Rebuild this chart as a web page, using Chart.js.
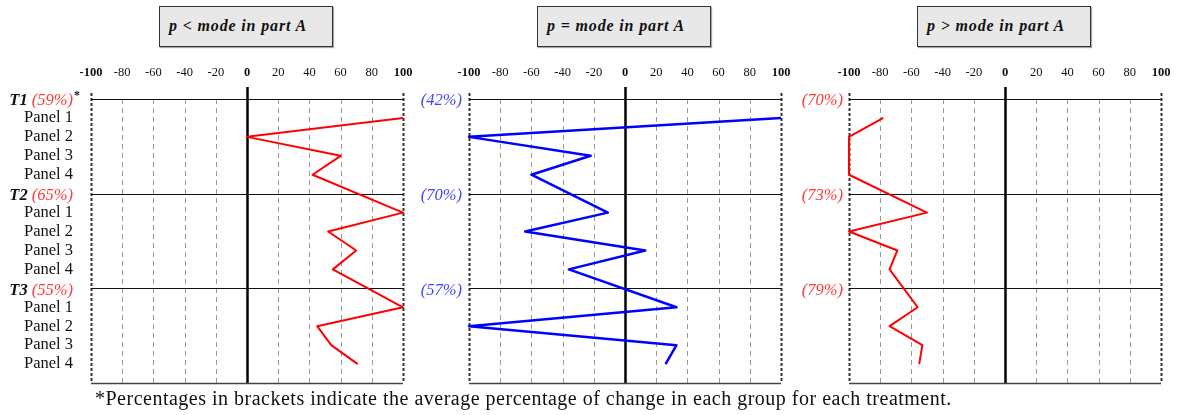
<!DOCTYPE html>
<html lang="en">
<head>
<meta charset="UTF-8">
<title>Change by panel and treatment</title>
<script src="https://cdn.jsdelivr.net/npm/chart.js"></script>
<style>
  body { margin: 0; background: #fff; width: 1181px; height: 415px; position: relative; overflow: hidden;
         font-family: 'Liberation Serif', 'Times New Roman', serif; color: #111; }
  .box { position: absolute; top: 6px; width: 174px; height: 41px; box-sizing: border-box;
         background: #e8e8e8; border: 1px solid #333; box-shadow: 1px 1px 1px #aaa;
         font-weight: bold; font-style: italic; font-size: 16px; letter-spacing: 0.85px;
         line-height: 38px; padding-left: 9px; }
  .plot { position: absolute; top: 60px; }
  .note { position: absolute; left: 95px; top: 387px; font-size: 20px; letter-spacing: 0.5px; white-space: nowrap; }
</style>
</head>
<body>
  <div class="box" style="left:159px">p &lt; mode in part A</div>
  <div class="box" style="left:537px">p = mode in part A</div>
  <div class="box" style="left:917px">p &gt; mode in part A</div>

  <canvas class="plot" id="lower" width="420" height="330" style="left:0"></canvas>
  <canvas class="plot" id="equal" width="386" height="330" style="left:412px"></canvas>
  <canvas class="plot" id="higher" width="386" height="330" style="left:792px"></canvas>

  <div class="note">*Percentages in brackets indicate the average percentage of change in each group for each treatment.</div>

<script>
  // rows of the vertical axis (last one is the empty space under T3 Panel 4)
  const rowLabels = ['T1', 'Panel 1', 'Panel 2', 'Panel 3', 'Panel 4',
                     'T2', 'Panel 1', 'Panel 2', 'Panel 3', 'Panel 4',
                     'T3', 'Panel 1', 'Panel 2', 'Panel 3', 'Panel 4', ''];
  const treatments = ['T1', 'T2', 'T3'];
  const treatmentRows = [0, 5, 10];
  const panelRows = [1, 2, 3, 4, 6, 7, 8, 9, 11, 12, 13, 14];
  const xTicks = [-100, -80, -60, -40, -20, 0, 20, 40, 60, 80, 100];

  // p < mode in part A
  const lowerValues = [100, 0, 60, 42, 100, 52, 70, 55, 100, 45, 54, 71];
  const lowerShares = ['59%', '65%', '55%'];
  // p = mode in part A
  const equalValues = [100, -100, -22, -60, -11, -64, 13, -36, 33, -100, 33, 26];
  const equalShares = ['42%', '70%', '57%'];
  // p > mode in part A
  const higherValues = [-78, -100, -100, -100, -50, -100, -69, -74, -56, -74, -53, -55];
  const higherShares = ['70%', '73%', '79%'];

  const SERIF = "'Liberation Serif', 'Times New Roman', serif";

  // grid: dashed verticals, thick zero line, solid treatment separators
  const framePlugin = {
    id: 'frame',
    beforeDatasetsDraw(chart) {
      const { ctx, chartArea: a, scales: { x, y } } = chart;
      ctx.save();
      xTicks.forEach(v => {
        const px = Math.round(x.getPixelForValue(v)) + 0.5;
        ctx.beginPath();
        if (v === 0) {
          ctx.setLineDash([]);
          ctx.lineWidth = 2.5;
          ctx.strokeStyle = '#000';
          ctx.moveTo(px, a.top - 12);
        } else if (Math.abs(v) === 100) {
          ctx.setLineDash([3, 2]);
          ctx.lineWidth = 2;
          ctx.strokeStyle = '#333';
          ctx.moveTo(px, a.top - 6);
        } else {
          ctx.setLineDash([5, 4]);
          ctx.lineWidth = 1;
          ctx.strokeStyle = '#999';
          ctx.moveTo(px, a.top);
        }
        ctx.lineTo(px, a.bottom);
        ctx.stroke();
      });
      ctx.setLineDash([]);
      const last = rowLabels.length - 1;
      treatmentRows.concat([last]).forEach(r => {
        const py = Math.round(y.getPixelForValue(r)) + 0.5;
        ctx.beginPath();
        ctx.lineWidth = r === last ? 1.5 : 1.2;
        ctx.strokeStyle = r === last ? '#444' : '#111';
        ctx.moveTo(a.left, py);
        ctx.lineTo(a.right, py);
        ctx.stroke();
      });
      ctx.restore();
    }
  };

  // treatment labels with their bracketed percentages
  const groupLabelPlugin = {
    id: 'groupLabels',
    afterDraw(chart, args, opts) {
      const { ctx, chartArea: a, scales: { y } } = chart;
      const right = a.left - opts.gap;
      ctx.save();
      ctx.textBaseline = 'middle';
      ctx.textAlign = 'left';
      treatmentRows.forEach((r, i) => {
        const py = y.getPixelForValue(r) + 2;
        const share = '(' + opts.shares[i] + ')';
        ctx.font = 'italic 16.5px ' + SERIF;
        const wShare = ctx.measureText(share).width;
        let name = '';
        let wName = 0;
        if (opts.showNames) {
          name = treatments[i] + ' ';
          ctx.font = 'italic bold 16.5px ' + SERIF;
          wName = ctx.measureText(name).width;
        }
        let sx = right - wShare - wName;
        if (name) {
          ctx.fillStyle = '#111';
          ctx.fillText(name, sx, py);
          sx += wName;
        }
        ctx.font = 'italic 16.5px ' + SERIF;
        ctx.fillStyle = opts.shareColor;
        ctx.fillText(share, sx, py);
        if (opts.showNames && i === 0) {
          ctx.font = 'bold 12px ' + SERIF;
          ctx.fillStyle = '#111';
          ctx.fillText('*', right + 1, py - 5);
        }
      });
      ctx.restore();
    }
  };

  // no automatic padding for half-labels at the scale ends
  function noPad(scale) {
    scale.paddingLeft = 0;
    scale.paddingRight = 0;
    scale.paddingTop = 0;
    scale.paddingBottom = 0;
  }

  function makeChart(id, values, shares, lineColor, shareColor, lineWidth, showNames, yWidth, gap) {
    return new Chart(document.getElementById(id), {
      type: 'scatter',
      data: {
        datasets: [{
          data: values.map((v, i) => ({ x: v, y: panelRows[i] })),
          showLine: true,
          clip: false,
          borderColor: lineColor,
          backgroundColor: lineColor,
          borderWidth: lineWidth,
          borderJoinStyle: 'round',
          pointRadius: 0,
          tension: 0
        }]
      },
      options: {
        responsive: false,
        animation: false,
        layout: { autoPadding: false, padding: { top: 0, right: 17, bottom: 7, left: 0 } },
        scales: {
          x: {
            type: 'linear',
            position: 'top',
            min: -100,
            max: 100,
            grid: { display: false, drawTicks: false },
            border: { display: false },
            afterBuildTicks: scale => { scale.ticks = xTicks.map(v => ({ value: v })); },
            afterFit: scale => { scale.height = 39; noPad(scale); },
            ticks: {
              padding: 19,
              color: '#111',
              maxRotation: 0,
              autoSkip: false,
              font: c => {
                const v = c.tick ? c.tick.value : null;
                return {
                  family: SERIF,
                  size: 12.5,
                  weight: (v === 0 || v === 100 || v === -100) ? 'bold' : 'normal'
                };
              }
            }
          },
          y: {
            type: 'linear',
            reverse: true,
            min: 0,
            max: rowLabels.length - 1,
            grid: { display: false, drawTicks: false },
            border: { display: false },
            afterFit: scale => { scale.width = yWidth; noPad(scale); },
            ticks: {
              stepSize: 1,
              autoSkip: false,
              padding: 18,
              color: '#111',
              font: { family: SERIF, size: 16.5 },
              callback: v => (showNames && !treatmentRows.includes(v)) ? rowLabels[v] : ''
            }
          }
        },
        plugins: {
          legend: { display: false },
          tooltip: { enabled: false },
          groupLabels: { shares, shareColor, showNames, gap }
        }
      },
      plugins: [framePlugin, groupLabelPlugin]
    });
  }

  makeChart('lower', lowerValues, lowerShares, '#ff0000', '#ff3b3b', 2, true, 91, 18);
  makeChart('equal', equalValues, equalShares, '#0000ff', '#4646ff', 2.5, false, 57, 7);
  makeChart('higher', higherValues, higherShares, '#ff0000', '#ff3b3b', 2, false, 57, 6);
</script>
</body>
</html>
